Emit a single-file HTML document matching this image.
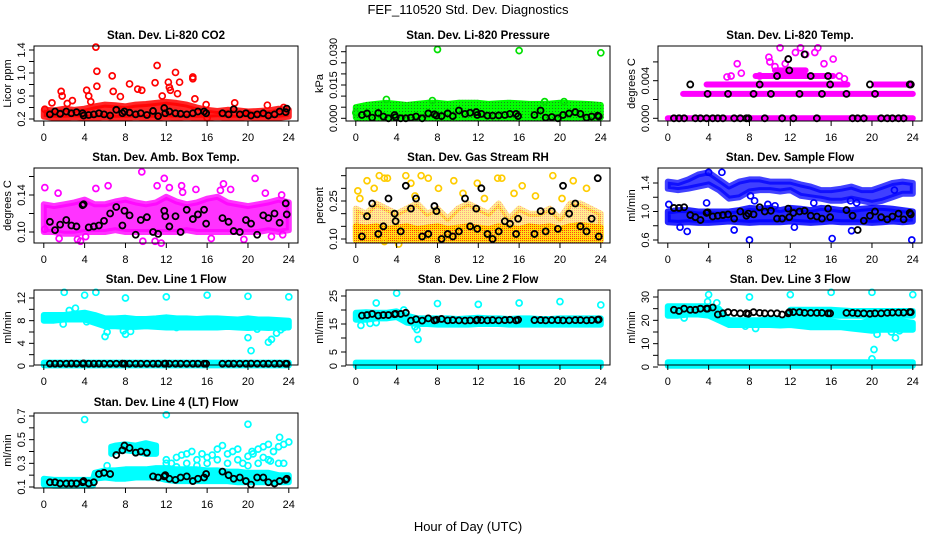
<!DOCTYPE html>
<html><head><meta charset="utf-8"><style>
html,body{margin:0;padding:0;background:#fff;}
svg{display:block;font-family:"Liberation Sans",Arial,sans-serif;}
</style></head><body>
<svg id="chart" width="936" height="540" viewBox="0 0 936 540" xmlns="http://www.w3.org/2000/svg">
<defs>
<pattern id="pGreen" width="3" height="3" patternUnits="userSpaceOnUse"><rect width="3" height="3" fill="#00ff00"/><rect width="1" height="1" fill="#208020"/></pattern>
<pattern id="pRH" width="2" height="2" patternUnits="userSpaceOnUse"><rect width="2" height="2" fill="#ffdd00"/><rect width="1" height="1" fill="#ff3000"/></pattern>
</defs>
<text x="468" y="14" text-anchor="middle" font-size="13">FEF_110520  Std. Dev. Diagnostics</text>
<text x="468" y="531" text-anchor="middle" font-size="13">Hour of Day (UTC)</text>
<g id="panels"></g>
</svg>
<script>
// ---------- data ----------
const hourGrid = [0,1,2,3,4,5,6,7,8,9,10,11,12,13,14,15,16,17,18,19,20,21,22,23,24];
const blkHours = [0.6,1.1,1.6,2.2,2.7,3.2,3.8,3.9,4.4,4.9,5.4,5.9,6.5,7.1,7.7,7.9,8.4,9.0,9.5,10.1,10.7,11.2,11.8,11.9,12.3,12.9,13.4,14.0,14.6,15.1,15.7,15.9,17.5,18.1,18.6,19.2,19.8,20.3,20.9,21.5,22.0,22.6,23.1,23.7,23.8];

// CO2
const co2BandLo = [0.24,0.22,0.22,0.23,0.22,0.22,0.23,0.22,0.22,0.23,0.22,0.22,0.23,0.22,0.23,0.22,0.22,0.23,0.22,0.22,0.23,0.22,0.22,0.22,0.24];
const co2BandHi = [0.36,0.35,0.38,0.36,0.38,0.42,0.45,0.44,0.42,0.45,0.46,0.48,0.5,0.48,0.45,0.4,0.36,0.34,0.36,0.35,0.33,0.34,0.35,0.38,0.36];
const co2OutT = [0.1,0.8,1.7,1.8,2.3,2.8,4.2,4.4,4.6,5.1,5.2,5.2,6.7,6.8,7.5,8.4,9.2,9.6,10.9,11.1,11.6,12.2,12.3,12.4,12.9,13.1,13.3,14.6,14.6,14.8,15.9,16,18.7,20,21.9,23.5];
const co2OutV = [0.37,0.48,0.68,0.6,0.47,0.52,0.7,0.6,0.5,1.45,1.03,0.77,0.95,0.68,0.59,0.81,0.72,0.7,0.83,1.13,0.6,0.84,0.75,0.7,1.01,0.64,0.84,0.93,0.9,0.55,0.45,0.22,0.48,0.3,0.44,0.4];
const co2Blk = [0.28,0.33,0.29,0.33,0.3,0.32,0.3,0.26,0.27,0.28,0.3,0.28,0.26,0.36,0.3,0.33,0.31,0.28,0.3,0.27,0.34,0.25,0.39,0.3,0.33,0.3,0.29,0.28,0.3,0.33,0.33,0.3,0.3,0.28,0.37,0.28,0.3,0.26,0.28,0.3,0.26,0.28,0.33,0.32,0.38];

// Pressure
const presBandLo = [0.0003,0,0,0,0,0,0,0,0,0,0,0,0,0,0,0,0,0,0,0,0,0,0,0,0.0003];
const presBandHi = [0.005,0.006,0.0065,0.007,0.0065,0.006,0.0065,0.007,0.007,0.0065,0.007,0.007,0.007,0.0065,0.0068,0.007,0.0068,0.0065,0.0065,0.0066,0.007,0.0068,0.0066,0.0064,0.006];
const presOutT = [8,16,24,0,3,7.5,18.5,20.4];
const presOutV = [0.031,0.0305,0.0295,0.0025,0.0085,0.008,0.0075,0.0075];
const presBlk = [0.0015,0.0022,0.0003,0.0024,0.0008,0,0.0015,0.0005,0,0,0.0003,0.0008,0,0.0022,0.0018,0.0012,0.001,0.0022,0.001,0.0035,0.002,0.0025,0.0028,0.0015,0.002,0.0012,0.0012,0.0013,0.0015,0.002,0.002,0.001,0.0015,0.0035,0.0003,0.0006,0,0.0015,0.0022,0.0028,0.002,0.0003,0.0008,0.0012,0.0008];

// Li-820 temp (quantized levels)
const tempLevV = [0,0.0026,0.0036,0.0036,0.0045,0.0051];
const tempLevT0 = [0,1.5,3.8,20.2,8.6,10.5];
const tempLevT1 = [24,24,17.6,23.9,16.2,13.5];
const tempOutT = [6.8,9.9,10,11,11.8,12.5,13,13.5,14.4,14.7,16.2,15.3,11.5,10.5,16.8,17.3,7.2,5.8,6.2,9.0];
const tempOutV = [0.0058,0.0065,0.006,0.0075,0.0063,0.007,0.0075,0.0068,0.007,0.0075,0.0063,0.0058,0.0058,0.0055,0.0045,0.0042,0.0048,0.0044,0.0045,0.0045];
const tempBlk = [0,0,0,0.0036,0,0,0,0.0026,0,0,0,0.0026,0,0,0,0,0.0026,0.0036,0,0.0026,0.0045,0,0.0063,0.0051,0,0.0026,0.0068,0.0045,0,0.0026,0.0045,0.0036,0.0026,0,0,0,0.0036,0.0026,0,0,0,0,0,0.0036,0.0036];

// Ambient box temp
const ambBandLo = [0.10,0.10,0.098,0.098,0.1,0.1,0.1,0.102,0.1,0.1,0.1,0.1,0.1,0.1,0.102,0.1,0.1,0.1,0.1,0.1,0.1,0.1,0.102,0.1,0.102];
const ambBandHi = [0.13,0.128,0.13,0.132,0.135,0.13,0.13,0.133,0.135,0.132,0.13,0.132,0.138,0.133,0.13,0.132,0.136,0.138,0.132,0.13,0.128,0.13,0.132,0.135,0.132];
const ambOutT = [0.1,0.1,1.4,1.5,3.3,3.6,4.1,5.1,6.3,9.6,9.7,10.9,11.1,11.5,11.8,12.3,13.5,13.6,14.9,16.4,17.3,17.6,18.3,19.6,20.7,21.7,22.3,23.3,23.4];
const ambOutV = [0.148,0.103,0.142,0.093,0.092,0.09,0.095,0.147,0.15,0.165,0.09,0.09,0.15,0.088,0.158,0.148,0.15,0.143,0.146,0.093,0.145,0.152,0.146,0.092,0.158,0.142,0.095,0.14,0.097];
const ambBlk = [0.111,0.102,0.108,0.113,0.107,0.106,0.129,0.13,0.105,0.106,0.107,0.112,0.12,0.127,0.107,0.123,0.118,0.097,0.113,0.116,0.1,0.098,0.123,0.117,0.106,0.117,0.1,0.124,0.114,0.119,0.124,0.109,0.115,0.111,0.101,0.1,0.113,0.109,0.097,0.118,0.115,0.12,0.11,0.131,0.119];

// Gas stream RH
const rhBandLo = [0.095,0.095,0.095,0.095,0.095,0.095,0.095,0.095,0.095,0.095,0.095,0.095,0.095,0.095,0.095,0.095,0.095,0.095,0.095,0.095,0.095,0.095,0.095,0.095,0.095];
const rhBandMid = [0.15,0.145,0.15,0.14,0.145,0.15,0.14,0.145,0.15,0.14,0.145,0.15,0.145,0.14,0.15,0.145,0.14,0.15,0.145,0.15,0.14,0.15,0.155,0.15,0.145];
const rhBandHi = [0.22,0.2,0.24,0.22,0.2,0.22,0.24,0.2,0.22,0.18,0.22,0.24,0.22,0.2,0.24,0.18,0.22,0.2,0.2,0.22,0.18,0.24,0.24,0.22,0.2];
const rhOutT = [0.2,1.1,2.3,2.8,3.1,4.9,5.4,6.4,7.1,9.6,11.9,13.9,14.3,16.3,19.3,21.3,22.6,1.8,8.1,10.5,15.5,4.2,2.8,0.4,5.8,12.6,17.6,20.2];
const rhOutV = [0.29,0.33,0.35,0.34,0.34,0.35,0.32,0.35,0.34,0.33,0.32,0.34,0.34,0.31,0.35,0.33,0.3,0.3,0.3,0.28,0.28,0.08,0.09,0.26,0.27,0.26,0.27,0.26];
const rhBlk = [0.11,0.19,0.24,0.12,0.15,0.26,0.2,0.17,0.13,0.31,0.22,0.26,0.11,0.12,0.23,0.21,0.1,0.12,0.11,0.13,0.26,0.15,0.22,0.14,0.3,0.12,0.1,0.13,0.17,0.16,0.12,0.18,0.12,0.21,0.13,0.21,0.14,0.31,0.2,0.24,0.15,0.13,0.18,0.34,0.11];

// Sample flow
const sfUpLo = [1.32,1.3,1.32,1.35,1.38,1.3,1.18,1.2,1.28,1.3,1.3,1.28,1.3,1.22,1.2,1.18,1.15,1.15,1.18,1.15,1.12,1.15,1.2,1.25,1.25];
const sfUpHi = [1.42,1.4,1.45,1.52,1.55,1.45,1.35,1.42,1.45,1.45,1.42,1.42,1.42,1.38,1.35,1.3,1.3,1.32,1.35,1.3,1.3,1.35,1.4,1.42,1.4];
const sfLoLo = [0.85,0.84,0.85,0.84,0.84,0.85,0.86,0.85,0.84,0.85,0.85,0.85,0.86,0.85,0.84,0.85,0.86,0.85,0.85,0.85,0.84,0.85,0.86,0.85,0.86];
const sfLoHi = [1.0,1.02,1.02,1.0,1.0,1.0,1.0,1.02,1.05,1.04,1.05,1.02,1.05,1.04,1.02,1.05,1.04,1.02,1.02,1.04,1.05,1.05,1.04,1.02,1.0];
const sfOutT = [0.1,4.0,5.3,8.0,8.1,8.5,9.8,10.5,6.5,1.2,1.9,3.8,16.1,23.9,12.4,18.0,14.3,22.2,17.9,18.5];
const sfOutV = [1.1,1.55,1.55,0.6,1.22,1.15,1.1,1.08,0.74,0.78,0.72,1.12,0.62,0.6,0.78,0.73,1.12,1.3,1.15,1.12];
const sfBlk = [1.05,1.05,1.06,0.95,0.92,0.88,0.98,0.99,0.93,0.94,0.95,0.96,0.9,1.0,0.94,0.97,0.96,1.06,1.0,1.01,0.9,0.9,1.04,0.92,0.98,1.0,1.01,0.94,0.93,0.9,1.04,0.92,1.02,0.94,0.74,0.87,0.94,1.0,0.92,0.89,0.93,0.97,0.89,0.98,0.96];

// Line 1 flow
const l1UpLo = [8.0,8.0,8.2,8.2,8.2,7.6,7.0,7.0,6.9,6.9,7.0,6.9,6.8,6.8,6.8,6.8,6.8,6.8,6.9,6.8,6.7,6.8,6.7,6.8,6.8];
const l1UpHi = [9.0,9.0,9.0,9.2,9.4,9.0,8.4,8.4,8.5,8.3,8.3,8.4,8.6,8.4,8.4,8.3,8.4,8.4,8.3,8.2,8.4,8.2,8.2,8.1,8.0];
const l1LowLo = [0.1,0.1,0.1,0.1,0.1,0.1,0.1,0.1,0.1,0.1,0.1,0.1,0.1,0.1,0.1,0.1,0.1,0.1,0.1,0.1,0.1,0.1,0.1,0.1,0.1];
const l1LowHi = [0.6,0.6,0.6,0.6,0.6,0.6,0.6,0.6,0.6,0.6,0.6,0.6,0.6,0.6,0.6,0.6,0.6,0.6,0.6,0.6,0.6,0.6,0.6,0.6,0.6];
const l1OutT = [2,4,5.1,8,12,16,20,24,2.5,3.1,6.0,6.2,7.8,8,8.5,20,20.3,20.9,22,22.3,22.8,23.2,23.5,23.8,1.9,4.2,13];
const l1OutV = [13,12.5,13,12,12.2,12.5,12.3,12.2,9.8,10.2,5.2,6.0,6.2,5.6,6.1,5,2.7,6.5,4.2,4.7,5.8,6.4,6.8,7.2,7.4,7.8,6.8];
const l1Blk = [0.4,0.4,0.4,0.4,0.42,0.4,0.4,0.45,0.4,0.4,0.4,0.4,0.4,0.4,0.42,0.4,0.4,0.4,0.4,0.4,0.4,0.4,0.4,0.42,0.4,0.4,0.4,0.4,0.4,0.4,0.4,0.4,0.4,0.4,0.4,0.4,0.4,0.42,0.4,0.4,0.4,0.4,0.4,0.4,0.4];

// Line 2 flow
const l2UpLo = [16.5,16.5,17,17,17.5,15.5,15,15,14.8,14.8,14.8,14.8,15,15,15,14.8,14.8,14.8,14.8,14.8,14.8,14.8,14.8,14.8,14.8];
const l2UpHi = [19,19.2,19,19,19.5,18,17,17,17,17,16.8,17,17.2,17,17,16.8,17,17,16.8,16.8,17,17,17,17,17];
const l2LowLo = [0,0,0,0,0,0,0,0,0,0,0,0,0,0,0,0,0,0,0,0,0,0,0,0,0];
const l2LowHi = [1.2,1.2,1.2,1.2,1.2,1.2,1.2,1.2,1.2,1.2,1.2,1.2,1.2,1.2,1.2,1.2,1.2,1.2,1.2,1.2,1.2,1.2,1.2,1.2,1.2];
const l2OutT = [0.5,1.4,2,2,4,4.7,5.8,6,6.1,8,12,16,20,24];
const l2OutV = [14.5,15.2,22.5,15.5,26,20,14,13,9.5,22.3,22,22.5,23,21.8];
const l2Blk = [18,18.2,18.6,18,18.2,18.2,18.5,18.6,18.6,19,16.2,16.7,16.2,17,16.3,16.5,16.8,16.3,16.4,16.3,16.2,16.3,16.3,16.5,16.4,16.3,16.4,16.3,16.4,16.5,16.3,16.5,16.4,16.4,16.3,16.4,16.4,16.3,16.3,16.4,16.4,16.3,16.4,16.5,16.6];

// Line 3 flow
const l3UpLo = [22,22,22.5,22.5,22,20,18,18,18,18,18,17.8,18,17.5,17,17,17,17,16.5,16,15.5,16,16,16,16];
const l3UpHi = [26,26,26,26,26,25,20,20,20,20,20.5,20,20.5,20,19.5,19.5,19.5,19,19,19,20,20,20,19.5,19];
const l3MidT = [12,14,16,18,20,22,24];
const l3MidLo = [22,22,22,22,22,22,22];
const l3MidHi = [24.5,24.5,24.5,24,24,24,24];
const l3LowLo = [0.5,0.5,0.5,0.5,0.5,0.5,0.5,0.5,0.5,0.5,0.5,0.5,0.5,0.5,0.5,0.5,0.5,0.5,0.5,0.5,0.5,0.5,0.5,0.5,0.5];
const l3LowHi = [2,2,2,2,2,2,2,2,2,2,2,2,2,2,2,2,2,2,2,2,2,2,2,2,2];
const l3OutT = [4,8,12,16,20,24,1.6,7.6,8.6,20.2,20,20.5,22.3,21.9,22.7,23.5,4.8,3.9];
const l3OutV = [31,30,31,32,32,31,21,17.5,16.5,7.5,3.5,14,12.5,15,15.5,16.5,27.5,28];
const l3Blk = [24.5,24,25,24.5,24.5,25,25,25,25.5,22.5,23,23.5,23.2,23,23,22.8,23.5,23.2,23,23,23,22.5,23,23.5,23.5,23.5,23.2,23.2,23.2,23.2,23,23,23.2,23.2,23,23,22.8,23,23,23.2,23.3,23.3,23.3,23.5,23.5];

// Line 4 (LT) flow
const l4BandT = [0,1,2,3,4,4.8,5,6,7,8,9,10,11,12,13,14,15,16,17,18,19,20,21,22,23,24];
const l4BandLo = [0.12,0.11,0.11,0.11,0.11,0.11,0.17,0.18,0.17,0.17,0.18,0.18,0.18,0.16,0.15,0.15,0.15,0.15,0.15,0.15,0.14,0.14,0.14,0.14,0.14,0.14];
const l4BandHi = [0.17,0.16,0.16,0.16,0.16,0.16,0.22,0.24,0.24,0.25,0.25,0.25,0.26,0.26,0.25,0.25,0.25,0.24,0.24,0.23,0.23,0.22,0.22,0.22,0.2,0.2];
const l4StreakT = [6.6,7,8,9,10,11];
const l4StreakLo = [0.38,0.4,0.41,0.4,0.38,0.38];
const l4StreakHi = [0.44,0.45,0.46,0.45,0.47,0.45];
const l4OutT = [12,12.5,13,13.5,14,14.5,15,15.5,16,16.5,17,17.5,18,18.5,19,19.5,20,20.5,21,21.5,22,22.5,23,23.5,24,12,13,14,15,16,17,18,19,20,21,22,23,23.5,4,12,20,6.2,23.1,22.2,20.4,21.5];
const l4OutV = [0.33,0.3,0.35,0.37,0.38,0.4,0.33,0.38,0.35,0.37,0.42,0.45,0.38,0.4,0.42,0.3,0.36,0.38,0.42,0.44,0.46,0.4,0.44,0.46,0.48,0.3,0.27,0.3,0.28,0.3,0.33,0.3,0.33,0.28,0.3,0.33,0.3,0.3,0.67,0.71,0.63,0.28,0.52,0.32,0.4,0.35];
const l4Blk = [0.14,0.14,0.13,0.13,0.13,0.13,0.14,0.15,0.13,0.14,0.21,0.22,0.21,0.37,0.41,0.45,0.43,0.39,0.4,0.39,0.19,0.18,0.19,0.2,0.17,0.16,0.18,0.19,0.15,0.17,0.18,0.21,0.23,0.2,0.17,0.18,0.15,0.12,0.18,0.18,0.14,0.13,0.15,0.16,0.17];

const xTicks = [0,4,8,12,16,20,24];

// ---------- layout ----------
const colL = [34,346,658], rowT = [46,168,290,413], BW = 264, BH = 75;
const NS = 'http://www.w3.org/2000/svg';
const root = document.getElementById('panels');
function mk(tag, attrs, parent){ const e=document.createElementNS(NS,tag); for(const k in attrs) e.setAttribute(k,attrs[k]); (parent||root).appendChild(e); return e; }

const panels = [
 {key:'co2',title:'Stan. Dev. Li-820 CO2',yt:'Licor ppm',c:0,r:0,a:[0.2,119,1.4,50],ticks:[0.2,0.4,0.6,0.8,1.0,1.2,1.4],labs:['0.2','','0.6','','1.0','','1.4'],color:'#ff0000',
  bands:[[hourGrid,co2BandLo,co2BandHi,'#ff0000',0.85]],out:[co2OutT,co2OutV],blk:co2Blk},
 {key:'pressure',title:'Stan. Dev. Li-820 Pressure',yt:'kPa',c:1,r:0,a:[0,118.3,0.03,51.7],ticks:[0,0.005,0.01,0.015,0.02,0.025,0.03],labs:['0.000','','','0.015','','','0.030'],color:'#00e000',
  bands:[[hourGrid,presBandLo,presBandHi,'url(#pGreen)']],out:[presOutT,presOutV],blk:presBlk},
 {key:'temp',title:'Stan. Dev. Li-820 Temp.',yt:'degrees C',c:2,r:0,a:[0,118.3,0.004,80.7],ticks:[0,0.002,0.004,0.006],labs:['0.000','','0.004',''],color:'#ff00ff',
  levels:true,bands:[],out:[tempOutT,tempOutV],blk:tempBlk},
 {key:'amb',title:'Stan. Dev. Amb. Box Temp.',yt:'degrees C',c:0,r:1,a:[0.10,232,0.14,195],ticks:[0.10,0.12,0.14,0.16],labs:['0.10','','0.14',''],color:'#ff00ff',
  bands:[[hourGrid,ambBandLo,ambBandHi,'#ff00ff',0.8]],out:[ambOutT,ambOutV],blk:ambBlk},
 {key:'rh',title:'Stan. Dev. Gas Stream RH',yt:'percent',c:1,r:1,a:[0.10,239,0.25,201],ticks:[0.10,0.15,0.20,0.25,0.30,0.35],labs:['0.10','','','0.25','',''],color:'#ffcc00',
  bands:[[hourGrid,rhBandMid,rhBandHi,'url(#pRH)',0.45],[hourGrid,rhBandLo,rhBandMid,'url(#pRH)',0.9]],out:[rhOutT,rhOutV],blk:rhBlk},
 {key:'sampleflow',title:'Stan. Dev. Sample Flow',yt:'ml/min',c:2,r:1,a:[0.6,240,1.4,183],ticks:[0.6,0.8,1.0,1.2,1.4],labs:['0.6','','1.0','','1.4'],color:'#0000ff',
  bands:[[hourGrid,sfUpLo,sfUpHi,'#0000ff',0.75],[hourGrid,sfLoLo,sfLoHi,'#0000ff',0.85]],out:[sfOutT,sfOutV],blk:sfBlk},
 {key:'line1',title:'Stan. Dev. Line 1 Flow',yt:'ml/min',c:0,r:2,a:[0,366,12,298],ticks:[0,2,4,6,8,10,12],labs:['0','','4','','8','','12'],color:'#00ffff',
  bands:[[hourGrid,l1UpLo,l1UpHi,'#00ffff'],[hourGrid,l1LowLo,l1LowHi,'#00ffff']],out:[l1OutT,l1OutV],blk:l1Blk},
 {key:'line2',title:'Stan. Dev. Line 2 Flow',yt:'ml/min',c:1,r:2,a:[0,366,25,296],ticks:[0,5,10,15,20,25],labs:['0','5','','15','','25'],color:'#00ffff',
  bands:[[hourGrid,l2UpLo,l2UpHi,'#00ffff'],[hourGrid,l2LowLo,l2LowHi,'#00ffff']],out:[l2OutT,l2OutV],blk:l2Blk},
 {key:'line3',title:'Stan. Dev. Line 3 Flow',yt:'ml/min',c:2,r:2,a:[0,367,30,297],ticks:[0,5,10,15,20,25,30],labs:['0','','10','','20','','30'],color:'#00ffff',
  bands:[[hourGrid,l3UpLo,l3UpHi,'#00ffff'],[l3MidT,l3MidLo,l3MidHi,'#00ffff'],[hourGrid,l3LowLo,l3LowHi,'#00ffff']],out:[l3OutT,l3OutV],blk:l3Blk},
 {key:'line4',title:'Stan. Dev. Line 4 (LT) Flow',yt:'ml/min',c:0,r:3,a:[0.1,487,0.7,416],ticks:[0.1,0.2,0.3,0.4,0.5,0.6,0.7],labs:['0.1','','0.3','','0.5','','0.7'],color:'#00ffff',
  bands:[[l4BandT,l4BandLo,l4BandHi,'#00ffff'],[l4StreakT,l4StreakLo,l4StreakHi,'#00ffff']],out:[l4OutT,l4OutV],blk:l4Blk}
];

panels.forEach(p=>{
  const L=colL[p.c], T=rowT[p.r];
  const xS = h => L + 9.8 + h*(245/24);
  const yS = v => p.a[1] + (v-p.a[0])*(p.a[3]-p.a[1])/(p.a[2]-p.a[0]);
  const g = mk('g',{});
  
  
  const marks = mk('g',{},g);
  
  
  p.bands.forEach(b=>{
    const [bt,lo,hi,fill,op]=b;
    let d='';
    bt.forEach((t,i)=>{ d += (i?'L':'M')+xS(t).toFixed(1)+','+yS(hi[i]).toFixed(1); });
    for(let i=bt.length-1;i>=0;i--) d += 'L'+xS(bt[i]).toFixed(1)+','+yS(lo[i]).toFixed(1);
    d+='Z';
    const el = mk('path',{d:d,fill:fill,stroke:fill,'stroke-width':6,'stroke-linejoin':'round','fill-opacity':op||1,'stroke-opacity':op||1},marks);
    
    
  });
  if(p.levels){
    tempLevV.forEach((v,i)=>{
      const el = mk('line',{x1:xS(tempLevT0[i]),x2:xS(tempLevT1[i]),y1:yS(v),y2:yS(v),stroke:p.color,'stroke-width':6,'stroke-linecap':'round'},marks);
      
      
    });
  }
  const [ot,ov]=p.out;
  const ptColor = p.key==='rh' ? '#ffcc00' : (p.key==='pressure' ? '#00e000' : p.color);
  ot.forEach((t,i)=>{
    const el = mk('circle',{cx:xS(t),cy:yS(ov[i]),r:3,fill:'none',stroke:ptColor,'stroke-width':1.7},marks);
    
    
  });
  p.blk.forEach((v,i)=>{
    const el = mk('circle',{cx:xS(blkHours[i]),cy:yS(v),r:3,fill:'none',stroke:'#000','stroke-width':1.8},marks);
    
    
  });
  const box = mk('rect',{x:L,y:T,width:BW,height:BH,fill:'none',stroke:'#000','stroke-width':1},g);
  
  
  const tt = mk('text',{x:L+BW/2,y:T-7,'text-anchor':'middle','font-size':11.5,'font-weight':'bold'},g);
  tt.textContent = p.title;
  
  
  const xa = mk('g',{},g);
  
  
  mk('line',{x1:xS(0),x2:xS(24),y1:T+BH,y2:T+BH,stroke:'#000'},xa);
  xTicks.forEach(h=>{
    mk('line',{x1:xS(h),x2:xS(h),y1:T+BH,y2:T+BH+5,stroke:'#000'},xa);
    const tl = mk('text',{x:xS(h),y:T+BH+20,'text-anchor':'middle','font-size':11},xa);
    tl.textContent = h;
    
    
  });
  const ya = mk('g',{},g);
  
  
  p.ticks.forEach((v,i)=>{
    const y=yS(v);
    mk('line',{x1:L-5,x2:L,y1:y,y2:y,stroke:'#000'},ya);
    if(p.labs[i]){
      const tl = mk('text',{x:0,y:0,transform:`translate(${L-9},${y}) rotate(-90)`,'text-anchor':'middle','font-size':11},ya);
      tl.textContent = p.labs[i];
      
      
    }
  });
  const yt = mk('text',{x:0,y:0,transform:`translate(${L-23},${T+BH/2}) rotate(-90)`,'text-anchor':'middle','font-size':11},ya);
  yt.textContent = p.yt;
  
  
});
</script>
</body></html>
